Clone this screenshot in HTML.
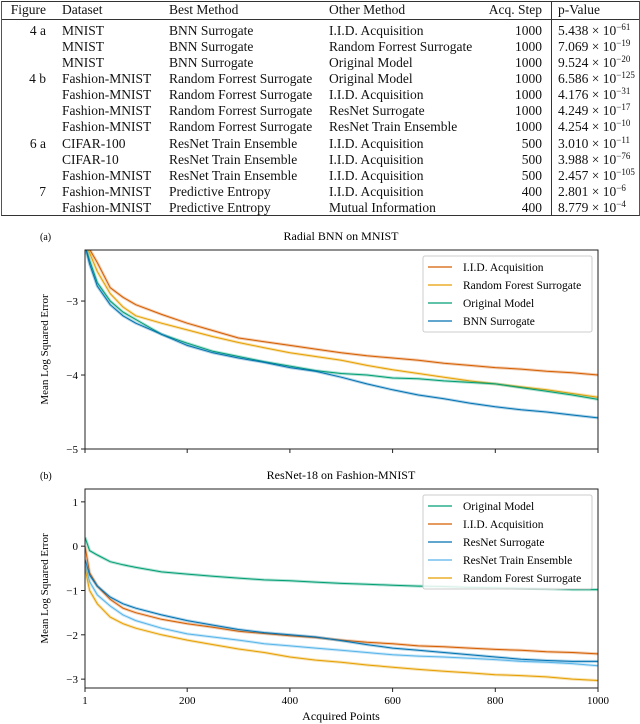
<!DOCTYPE html>
<html><head><meta charset="utf-8">
<style>
body{margin:0;width:640px;height:724px;background:#fff;font-family:"Liberation Serif",serif;color:#111;overflow:hidden;position:relative}
#tbl{position:absolute;left:1px;top:1px;width:637px;height:213px;border:1px solid #555;border-bottom:1.5px solid #333;border-top:1.5px solid #333}
.r{position:absolute;left:0;width:100%;height:16px;font-size:13.5px;line-height:16px;white-space:nowrap}
.r span{position:absolute}
.c0{right:593px}.c1{left:60px}.c2{left:167px}.c3{left:327px}.c4{right:97px}.c5{left:556px}
#vline{position:absolute;left:549px;top:0;height:100%;border-left:1px solid #333}
#hline{position:absolute;left:0;right:0;top:17px;border-top:1px solid #333}
sup{font-size:9px;vertical-align:5px;line-height:0}
svg{position:absolute;left:0;top:0}
svg text{font-family:"Liberation Serif",serif}
</style></head><body>
<div id="tbl">
<div id="vline"></div>
<div id="hline"></div>
<div class="r" style="top:0"><span class="c0">Figure</span><span class="c1">Dataset</span><span class="c2">Best Method</span><span class="c3">Other Method</span><span class="c4">Acq. Step</span><span class="c5">p-Value</span></div>
<div class="r" style="top:21px"><span class="c0">4 a</span><span class="c1">MNIST</span><span class="c2">BNN Surrogate</span><span class="c3">I.I.D. Acquisition</span><span class="c4">1000</span><span class="c5">5.438 × 10<sup>−61</sup></span></div>
<div class="r" style="top:37px"><span class="c1">MNIST</span><span class="c2">BNN Surrogate</span><span class="c3">Random Forrest Surrogate</span><span class="c4">1000</span><span class="c5">7.069 × 10<sup>−19</sup></span></div>
<div class="r" style="top:53px"><span class="c1">MNIST</span><span class="c2">BNN Surrogate</span><span class="c3">Original Model</span><span class="c4">1000</span><span class="c5">9.524 × 10<sup>−20</sup></span></div>
<div class="r" style="top:69px"><span class="c0">4 b</span><span class="c1">Fashion-MNIST</span><span class="c2">Random Forrest Surrogate</span><span class="c3">Original Model</span><span class="c4">1000</span><span class="c5">6.586 × 10<sup>−125</sup></span></div>
<div class="r" style="top:85px"><span class="c1">Fashion-MNIST</span><span class="c2">Random Forrest Surrogate</span><span class="c3">I.I.D. Acquisition</span><span class="c4">1000</span><span class="c5">4.176 × 10<sup>−31</sup></span></div>
<div class="r" style="top:101px"><span class="c1">Fashion-MNIST</span><span class="c2">Random Forrest Surrogate</span><span class="c3">ResNet Surrogate</span><span class="c4">1000</span><span class="c5">4.249 × 10<sup>−17</sup></span></div>
<div class="r" style="top:117px"><span class="c1">Fashion-MNIST</span><span class="c2">Random Forrest Surrogate</span><span class="c3">ResNet Train Ensemble</span><span class="c4">1000</span><span class="c5">4.254 × 10<sup>−10</sup></span></div>
<div class="r" style="top:134px"><span class="c0">6 a</span><span class="c1">CIFAR-100</span><span class="c2">ResNet Train Ensemble</span><span class="c3">I.I.D. Acquisition</span><span class="c4">500</span><span class="c5">3.010 × 10<sup>−11</sup></span></div>
<div class="r" style="top:150px"><span class="c1">CIFAR-10</span><span class="c2">ResNet Train Ensemble</span><span class="c3">I.I.D. Acquisition</span><span class="c4">500</span><span class="c5">3.988 × 10<sup>−76</sup></span></div>
<div class="r" style="top:166px"><span class="c1">Fashion-MNIST</span><span class="c2">ResNet Train Ensemble</span><span class="c3">I.I.D. Acquisition</span><span class="c4">500</span><span class="c5">2.457 × 10<sup>−105</sup></span></div>
<div class="r" style="top:182px"><span class="c0">7</span><span class="c1">Fashion-MNIST</span><span class="c2">Predictive Entropy</span><span class="c3">I.I.D. Acquisition</span><span class="c4">400</span><span class="c5">2.801 × 10<sup>−6</sup></span></div>
<div class="r" style="top:198px"><span class="c1">Fashion-MNIST</span><span class="c2">Predictive Entropy</span><span class="c3">Mutual Information</span><span class="c4">400</span><span class="c5">8.779 × 10<sup>−4</sup></span></div>
</div>
<svg id="chart" width="640" height="724"></svg>
<script>
const xs=[1,10,25,50,75,100,150,200,250,300,350,400,450,500,550,600,650,700,750,800,850,900,950,1000];
const aLabels=["I.I.D. Acquisition","Random Forest Surrogate","Original Model","BNN Surrogate"];
const aIID=[-2.1,-2.3,-2.48,-2.82,-2.95,-3.05,-3.18,-3.3,-3.4,-3.5,-3.55,-3.6,-3.65,-3.7,-3.74,-3.77,-3.8,-3.84,-3.87,-3.9,-3.92,-3.95,-3.97,-4.0];
const aRF=[-2.2,-2.35,-2.6,-2.9,-3.08,-3.2,-3.3,-3.39,-3.48,-3.56,-3.63,-3.7,-3.75,-3.8,-3.87,-3.93,-3.98,-4.03,-4.08,-4.12,-4.16,-4.2,-4.25,-4.3];
const aOrig=[-2.25,-2.45,-2.75,-3.0,-3.15,-3.25,-3.45,-3.57,-3.68,-3.75,-3.82,-3.88,-3.94,-3.98,-4.0,-4.04,-4.05,-4.08,-4.1,-4.12,-4.17,-4.22,-4.27,-4.33];
const aBNN=[-2.25,-2.5,-2.8,-3.05,-3.2,-3.3,-3.45,-3.6,-3.7,-3.77,-3.83,-3.9,-3.95,-4.03,-4.12,-4.2,-4.27,-4.32,-4.38,-4.43,-4.47,-4.5,-4.54,-4.58];
const aTicks=[-3,-4,-5];
const bLabels=["Original Model","I.I.D. Acquisition","ResNet Surrogate","ResNet Train Ensemble","Random Forest Surrogate"];
const bOrig=[0.2,-0.1,-0.2,-0.35,-0.42,-0.48,-0.58,-0.63,-0.68,-0.72,-0.76,-0.78,-0.81,-0.84,-0.86,-0.88,-0.9,-0.91,-0.93,-0.94,-0.95,-0.96,-0.98,-0.98];
const bIID=[0,-0.6,-0.9,-1.2,-1.4,-1.5,-1.65,-1.75,-1.83,-1.92,-1.97,-2.02,-2.06,-2.12,-2.17,-2.2,-2.25,-2.27,-2.3,-2.33,-2.35,-2.38,-2.4,-2.43];
const bRes=[-0.3,-0.65,-0.9,-1.15,-1.3,-1.4,-1.55,-1.68,-1.78,-1.88,-1.95,-2.0,-2.05,-2.13,-2.22,-2.3,-2.35,-2.4,-2.45,-2.5,-2.55,-2.58,-2.6,-2.6];
const bEns=[-0.4,-0.8,-1.1,-1.35,-1.55,-1.68,-1.85,-1.98,-2.05,-2.12,-2.2,-2.25,-2.3,-2.35,-2.4,-2.45,-2.48,-2.5,-2.53,-2.56,-2.6,-2.62,-2.65,-2.7];
const bRF=[-0.5,-1.0,-1.3,-1.6,-1.75,-1.85,-2.0,-2.12,-2.22,-2.32,-2.4,-2.5,-2.57,-2.62,-2.68,-2.73,-2.78,-2.82,-2.86,-2.9,-2.92,-2.95,-3.0,-3.03];
const bTicks=[1,0,-1,-2,-3];
const xTicks=[1,200,400,600,800,1000];

const NS="http://www.w3.org/2000/svg";
const svg=document.getElementById('chart');
function mk(tag,attrs,parent){const e=document.createElementNS(NS,tag);for(const k in attrs)e.setAttribute(k,attrs[k]);(parent||svg).appendChild(e);return e;}
const L=85,R=598;
const xS=v=>L+(v-1)/999*(R-L);

function panel(id,top,bottom,yMin,yMax,yTicks,series,colors,labels,legend,title,letter,showXLabels){
  const yS=v=>bottom-(v-yMin)/(yMax-yMin)*(bottom-top);
  const g=mk('g',{});
  
  
  const t=mk('text',{x:341,y:top-10,'text-anchor':'middle','font-size':12},g);t.textContent=title;
  
  const lt=mk('text',{x:40,y:top-10,'font-size':10},g);lt.textContent=letter;
  
  const cp=mk('clipPath',{id:id+'-clip'},g);mk('rect',{x:L,y:top,width:R-L,height:bottom-top},cp);
  const lines=mk('g',{'clip-path':'url(#'+id+'-clip)'},g);
  series.forEach((s,i)=>{
    const d=s.map((v,j)=>(j?'L':'M')+xS(xs[j]).toFixed(1)+','+yS(v).toFixed(1)).join('');
    const band=mk('path',{d:d,fill:'none',stroke:colors[i],'stroke-opacity':0.3,'stroke-width':3},lines);
    
    const p=mk('path',{d:d,fill:'none',stroke:colors[i],'stroke-width':1},lines);
    
  });
  const fr=mk('rect',{x:L,y:top,width:R-L,height:bottom-top,fill:'none',stroke:'#222','stroke-width':1},g);
  
  yTicks.forEach(v=>{
    mk('line',{x1:L-4,x2:L,y1:yS(v),y2:yS(v),stroke:'#222'},g);
    const tx=mk('text',{x:L-7,y:yS(v)+4,'text-anchor':'end','font-size':11},g);
    tx.textContent=(v<0?'\u2212'+(-v):String(v));
    
  });
  xTicks.forEach(v=>{
    mk('line',{x1:xS(v),x2:xS(v),y1:bottom,y2:bottom+4,stroke:'#222'},g);
    if(showXLabels){const tx=mk('text',{x:xS(v),y:bottom+16,'text-anchor':'middle','font-size':11},g);tx.textContent=String(v);
      }
  });
  const yl=mk('text',{x:0,y:0,'text-anchor':'middle','font-size':11,transform:'translate(48,'+((top+bottom)/2)+') rotate(-90)'},g);
  yl.textContent='Mean Log Squared Error';
  
  const lg=mk('g',{},g);
  
  mk('rect',{x:423,y:legend,width:169,height:labels.length*18+4,fill:'#fff','fill-opacity':0.85,stroke:'#ccc',rx:2},lg);
  labels.forEach((lab,i)=>{
    const yy=legend+11+i*18;
    mk('line',{x1:428,x2:452,y1:yy,y2:yy,stroke:colors[i],'stroke-width':1.2},lg);
    const tx=mk('text',{x:463,y:yy+4,'font-size':11.5},lg);tx.textContent=lab;
    
  });
}
panel('chart-a',250,449,-5,-2.31,aTicks,[aIID,aRF,aOrig,aBNN],['#d55e00','#e69f00','#009e73','#0072b2'],aLabels,256,'Radial BNN on MNIST','(a)',false);
panel('chart-b',489,688,-3.2,1.29,bTicks,[bOrig,bIID,bRes,bEns,bRF],['#009e73','#d55e00','#0072b2','#56b4e9','#e69f00'],bLabels,495,'ResNet-18 on Fashion-MNIST','(b)',true);
const xl=mk('text',{x:341,y:720,'text-anchor':'middle','font-size':12});
xl.textContent='Acquired Points';


</script>
</body></html>
